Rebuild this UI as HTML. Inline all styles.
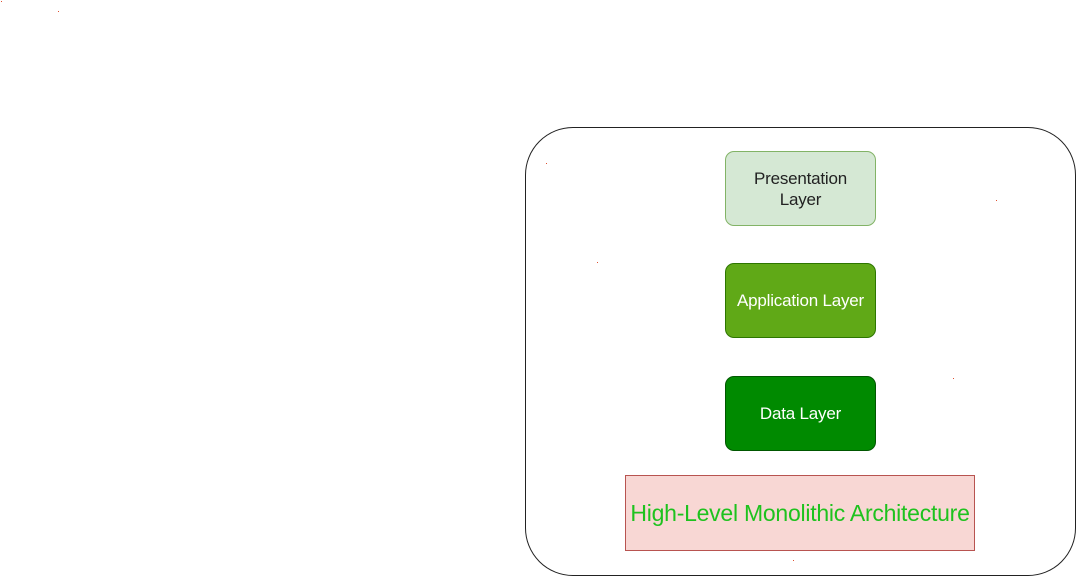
<!DOCTYPE html>
<html><head><meta charset="utf-8"><style>
html,body{margin:0;padding:0;background:#fff;}
body{width:1081px;height:580px;position:relative;overflow:hidden;font-family:"Liberation Sans",Arial,sans-serif;}
.outer{position:absolute;left:525px;top:127px;width:551px;height:449px;border:1.6px solid #222;border-radius:48px;box-sizing:border-box;}
.b{position:absolute;left:725px;width:151px;height:75px;border-radius:9px;box-sizing:border-box;display:flex;align-items:center;justify-content:center;text-align:center;font-size:17px;line-height:21px;letter-spacing:-0.2px;}
.p{top:151px;background:#d5e8d4;border:1px solid #82b366;color:#222;}
.a{top:263px;background:#60a917;border:1px solid #2d7600;color:#fff;}
.d{top:376px;background:#008a00;border:1px solid #005700;color:#fff;}
.r{position:absolute;left:625px;top:475px;width:350px;height:76px;background:#f8d7d4;border:1px solid #b85450;box-sizing:border-box;display:flex;align-items:center;justify-content:center;color:#1ec21e;font-size:23px;letter-spacing:-0.25px;white-space:nowrap;}
.dot{position:absolute;width:1px;height:1px;background:#e05030;}
</style></head><body>
<div class="outer"></div>
<div class="b p">Presentation<br>Layer</div>
<div class="b a">Application Layer</div>
<div class="b d">Data Layer</div>
<div class="r">High-Level Monolithic Architecture</div>
<div class="dot" style="left:1px;top:1px"></div>
<div class="dot" style="left:58px;top:11px"></div>
<div class="dot" style="left:546px;top:163px"></div>
<div class="dot" style="left:597px;top:262px"></div>
<div class="dot" style="left:996px;top:200px"></div>
<div class="dot" style="left:953px;top:378px"></div>
<div class="dot" style="left:793px;top:560px"></div>
</body></html>
